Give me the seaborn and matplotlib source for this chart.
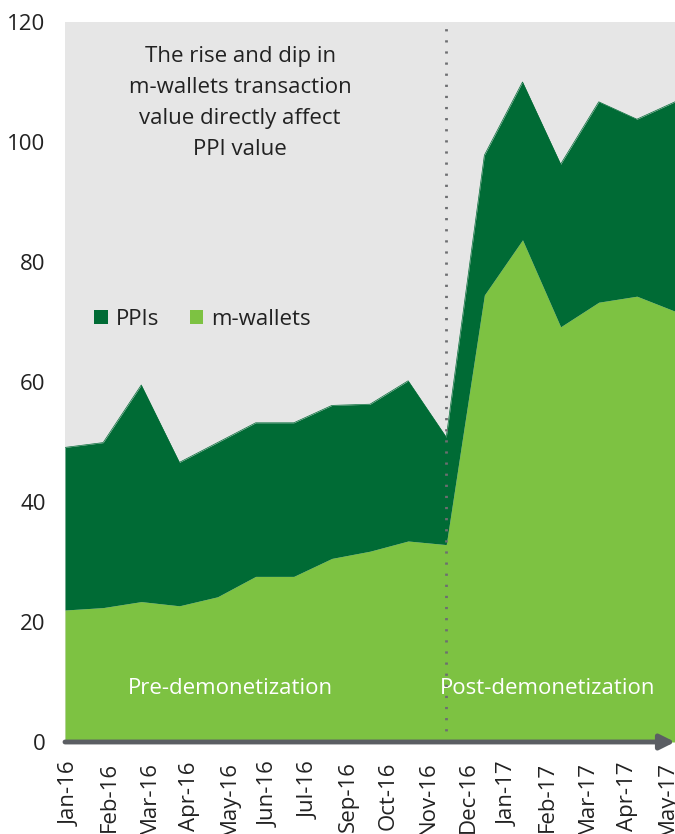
import numpy as np
import pandas as pd
import matplotlib
matplotlib.use("Agg")
import matplotlib.pyplot as plt
from matplotlib.patches import Patch
import seaborn as sns

# ---- data ----
month_labels = ["Jan-16", "Feb-16", "Mar-16", "Apr-16", "May-16", "Jun-16", "Jul-16",
                "Sep-16", "Oct-16", "Nov-16", "Dec-16", "Jan-17", "Feb-17", "Mar-17",
                "Apr-17", "May-17"]
m_wallets = [22.0, 22.4, 23.4, 22.7, 24.2, 27.6, 27.6, 30.6, 31.8, 33.5, 32.9,
             74.5, 83.7, 69.2, 73.3, 74.3, 71.8]
ppis = [27.1, 27.5, 36.1, 23.9, 25.7, 25.6, 25.6, 25.5, 24.5, 26.7, 17.9,
        23.3, 26.3, 27.1, 33.4, 29.5, 34.9]
y_ticks = [0, 20, 40, 60, 80, 100, 120]
series_names = ["PPIs", "m-wallets"]
demonetization_index = 10

df = pd.DataFrame({"idx": np.arange(len(m_wallets)), "m-wallets": m_wallets, "PPIs": ppis})
df["total"] = df["m-wallets"] + df["PPIs"]

sns.set_theme(style="white")
plt.rcParams["font.family"] = ["Open Sans", "DejaVu Sans"]

dark_green = "#006b35"
light_green = "#7dc242"
bg = "#e6e6e6"
axis_grey = "#5b5e63"
text_col = "#222222"

fig = plt.figure(figsize=(6.75, 8.34), dpi=100)
ax = fig.add_axes([65/675, 92/834, 610/675, 720/834])
ax.set_facecolor(bg)

ax.fill_between(df["idx"], 0, df["m-wallets"], color=light_green, lw=0)
ax.fill_between(df["idx"], df["m-wallets"], df["total"], color=dark_green, lw=0)
sns.lineplot(x=df["idx"], y=df["total"], ax=ax, color=dark_green, lw=0.5)

ax.set_xlim(0, len(m_wallets) - 1)
ax.set_ylim(0, 120)

ax.axvline(demonetization_index, color="#6d6e71", lw=2, ls=(0, (0.8, 3.2)), zorder=5)

for s in ax.spines.values():
    s.set_visible(False)

ax.set_yticks(y_ticks)
ax.set_yticklabels([str(v) for v in y_ticks], fontsize=16, color=text_col)
ax.tick_params(axis="y", length=0, pad=14)

n = len(month_labels)
tick_pos = np.linspace(0.13, len(m_wallets) - 1 - 0.21, n)
ax.set_xticks(tick_pos)
ax.set_xticklabels(month_labels, rotation=90, fontsize=16, color=text_col, va="top", ha="center")
ax.tick_params(axis="x", length=0, pad=14)
ax.set_xlabel("")
ax.set_ylabel("")

# bottom axis arrow
ax.annotate("", xy=(1.0, 0), xytext=(0, 0), xycoords="axes fraction",
            arrowprops=dict(arrowstyle="-|>", color=axis_grey, lw=3.5,
                            mutation_scale=22, shrinkA=0, shrinkB=0),
            annotation_clip=False, zorder=6)

ax.text(0.287, 0.888, "The rise and dip in\nm-wallets transaction\nvalue directly affect\nPPI value",
        transform=ax.transAxes, ha="center", va="center", fontsize=16, color=text_col,
        linespacing=1.62)

ax.text(4.33, 9, "Pre-demonetization", ha="center", va="center", fontsize=16, color="white")
ax.text(12.67, 9, "Post-demonetization", ha="center", va="center", fontsize=16, color="white")

handles = [Patch(facecolor=dark_green, edgecolor="none"), Patch(facecolor=light_green, edgecolor="none")]
leg = ax.legend(handles, series_names, loc="center left", bbox_to_anchor=(0.041, 0.587),
                ncol=2, frameon=False, fontsize=16, handlelength=0.6, handleheight=0.6,
                handletextpad=0.35, columnspacing=1.4, borderpad=0.2, borderaxespad=0)
for t in leg.get_texts():
    t.set_color(text_col)

fig.savefig("out.png", dpi=100, facecolor="white")
